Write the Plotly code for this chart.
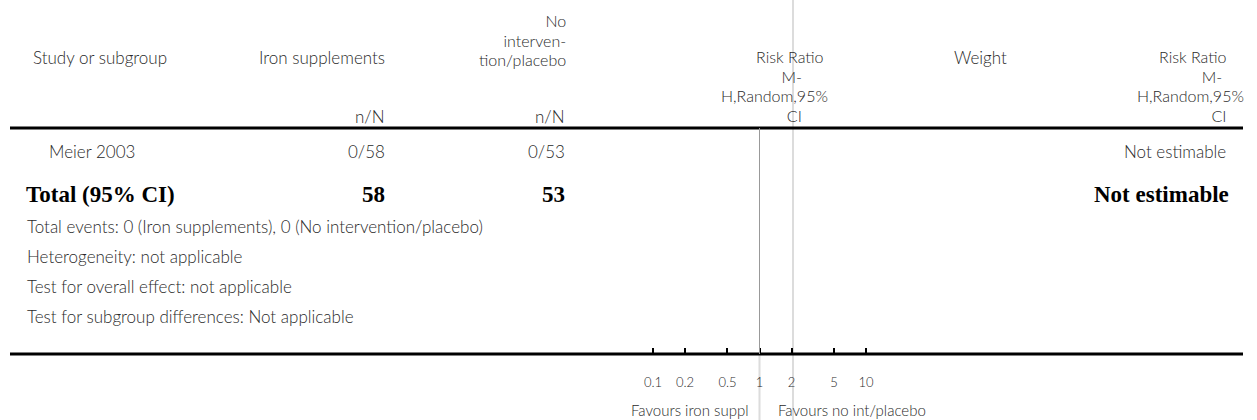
import plotly.graph_objects as go

W, H = 1257, 420

# ---- data ----
studies = ["Meier 2003"]
iron_events = [0]
iron_total = [58]
ctrl_events = [0]
ctrl_total = [53]
study_effect = ["Not estimable"]
total_label = "Total (95% CI)"
total_iron = 58
total_ctrl = 53
total_effect = "Not estimable"
footer_lines = [
    "Total events: 0 (Iron supplements), 0 (No intervention/placebo)",
    "Heterogeneity: not applicable",
    "Test for overall effect: not applicable",
    "Test for subgroup differences: Not applicable",
]
tick_vals = [0.1, 0.2, 0.5, 1, 2, 5, 10]
tick_labels = ["0.1", "0.2", "0.5", "1", "2", "5", "10"]
favours_left = "Favours iron suppl"
favours_right = "Favours no int/placebo"

SANS = "Lato"
SERIF = "Liberation Serif"
TXT = "#2a2a2a"
FS = 17
HFS = 16
BFS = 23
LINE = 19.5


def px(x):
    return x / W


def py(y):
    return 1 - y / H


annotations = []


def text(x, y, s, anchor="left", size=FS, family=SANS, color=TXT, bold=False):
    annotations.append(dict(
        x=px(x), y=py(y), xref="paper", yref="paper", text=(f"<b>{s}</b>" if bold else s),
        showarrow=False, xanchor=anchor, yanchor="middle",
        font=dict(family=family, size=size, color=color, weight=(700 if bold else 300)),
        align=anchor,
    ))


def block(x, y_center, lines, pads):
    # multi-line right-aligned header; base size sets line spacing,
    # inner spans carry the visible text size
    parts = []
    for s, p in zip(lines, pads):
        parts.append(f"<span style='font-size:{HFS}px'>{s}{'&nbsp;' * p}</span>")
    annotations.append(dict(
        x=px(x), y=py(y_center), xref="paper", yref="paper", text="<br>".join(parts),
        showarrow=False, xanchor="right", yanchor="middle", align="right",
        borderpad=0,
        font=dict(family=SANS, size=LINE / 1.3, color=TXT, weight=300),
    ))


# header
text(31, 58, "Study or subgroup")
text(387, 58, "Iron supplements", "right")
block(567, 40, ["No", "interven-", "tion/placebo"], [0, 0, 0])
text(387, 116, "n/N", "right")
text(567, 116, "n/N", "right")
block(829, 86, ["Risk Ratio", "M-", "H,Random,95%", "CI"], [1, 6, 0, 6])
text(980, 58, "Weight", "center")
block(1245, 86, ["Risk Ratio", "M-", "H,Random,95%", "CI"], [4, 5, 0, 4])

# study rows
for i, s in enumerate(studies):
    y = 151 + i * 30
    text(47, y, s)
    text(387, y, f"{iron_events[i]}/{iron_total[i]}", "right")
    text(567, y, f"{ctrl_events[i]}/{ctrl_total[i]}", "right")
    text(1228, y, study_effect[i], "right")

# total row
text(24, 194, total_label, size=BFS, family=SERIF, color="#000", bold=True)
text(387, 194, str(total_iron), "right", size=BFS, family=SERIF, color="#000", bold=True)
text(567, 194, str(total_ctrl), "right", size=BFS, family=SERIF, color="#000", bold=True)
text(1231, 194, total_effect, "right", size=BFS, family=SERIF, color="#000", bold=True)

for i, s in enumerate(footer_lines):
    text(25, 226 + i * 30.3, s)

# favours labels
text(751, 410, favours_left, "right", size=15)
text(776, 410, favours_right, "left", size=15)

shapes = [
    # faint full-height guide
    dict(type="line", xref="paper", yref="paper", x0=px(793), x1=px(793), y0=0, y1=1,
         line=dict(color="#dcdcdc", width=2), layer="below"),
    # header rule
    dict(type="line", xref="paper", yref="paper", x0=px(10), x1=px(1243), y0=py(128), y1=py(128),
         line=dict(color="#000", width=3)),
    # bottom rule / axis line
    dict(type="line", xref="paper", yref="paper", x0=px(10), x1=px(1243), y0=py(354), y1=py(354),
         line=dict(color="#000", width=3)),
    # line of no effect
    dict(type="line", xref="x", yref="paper", x0=1, x1=1, y0=py(354), y1=py(128),
         line=dict(color="#999999", width=1)),
    dict(type="line", xref="x", yref="paper", x0=1, x1=1, y0=0, y1=py(354),
         line=dict(color="#dcdcdc", width=2), layer="below"),
]

# log axis: 0.1 -> 653 px, 10 -> 866 px; pad range a little so end ticks are drawn
per_dec = (866 - 653) / 2.0
pad = 0.1
dom_l = 653 - pad * per_dec
dom_r = 866 + pad * per_dec

fig = go.Figure()
fig.add_trace(go.Scatter(x=[], y=[], mode="markers", showlegend=False, hoverinfo="skip"))

fig.update_layout(
    width=W, height=H, autosize=False,
    margin=dict(l=0, r=0, t=0, b=0, pad=0),
    paper_bgcolor="white", plot_bgcolor="rgba(0,0,0,0)",
    showlegend=False,
    annotations=annotations,
    shapes=shapes,
    xaxis=dict(
        type="log", range=[-1 - pad, 1 + pad], domain=[px(dom_l), px(dom_r)],
        anchor="free", position=py(354),
        showgrid=False, zeroline=False, showline=False,
        ticks="inside", ticklen=6, tickwidth=2, tickcolor="#000",
        tickvals=tick_vals, ticktext=tick_labels,
        tickfont=dict(family=SANS, size=13, color=TXT, weight=300),
        ticklabelstandoff=19,
        fixedrange=True,
    ),
    yaxis=dict(range=[0, 1], domain=[0, 1], visible=False, fixedrange=True),
)

fig.write_html(
    "out.html",
    config={"displayModeBar": False},
    post_script="document.body.style.margin='0';document.body.style.padding='0';",
)
